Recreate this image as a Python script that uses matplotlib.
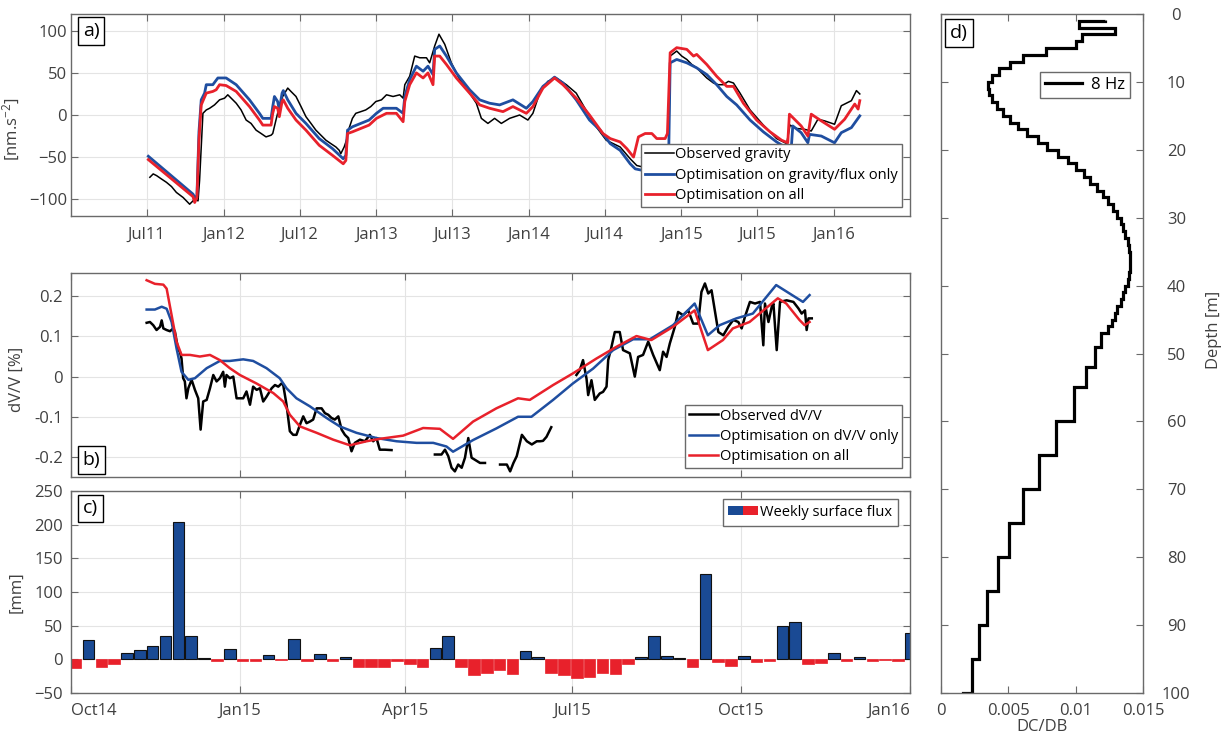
import matplotlib
matplotlib.use("Agg")
import matplotlib.pyplot as plt
import matplotlib.dates as mdates
import numpy as np
from datetime import datetime
from matplotlib.lines import Line2D
from matplotlib.patches import Rectangle
from matplotlib.legend_handler import HandlerTuple

plt.rcParams["font.family"] = ["Open Sans", "DejaVu Sans"]
plt.rcParams["mathtext.default"] = "regular"

BLUE = "#1f4ea0"
RED = "#e8212b"
TXT = "#404040"
SPINE = "#6a6a6a"
GRID = "#e4e4e4"

# ---- panel a: gravity (decimal years, nm/s^2)
grav_obs_t = [2011.517, 2011.539, 2011.561, 2011.593, 2011.626, 2011.659, 2011.691, 2011.735,
              2011.778, 2011.811, 2011.833, 2011.843, 2011.865, 2011.887, 2011.909, 2011.941,
              2011.974, 2012.007, 2012.028, 2012.061, 2012.083, 2012.115, 2012.148, 2012.180,
              2012.213, 2012.246, 2012.278, 2012.311, 2012.322, 2012.343, 2012.365, 2012.387,
              2012.420, 2012.441, 2012.474, 2012.507, 2012.539, 2012.572, 2012.604, 2012.637,
              2012.670, 2012.702, 2012.735, 2012.757, 2012.767, 2012.789, 2012.804, 2012.817,
              2012.843, 2012.865, 2012.898, 2012.930, 2012.963, 2012.996, 2013.033, 2013.066,
              2013.109, 2013.153, 2013.175, 2013.186, 2013.218, 2013.251, 2013.284, 2013.328,
              2013.349, 2013.382, 2013.410, 2013.448, 2013.491, 2013.546, 2013.611, 2013.655,
              2013.688, 2013.731, 2013.775, 2013.819, 2013.873, 2013.939, 2013.993, 2014.026,
              2014.070, 2014.124, 2014.179, 2014.245, 2014.310, 2014.386, 2014.441, 2014.507,
              2014.598, 2014.664, 2014.707, 2014.795, 2014.904, 2014.917, 2014.926, 2014.969,
              2015.002, 2015.035, 2015.068, 2015.100, 2015.133, 2015.166, 2015.210, 2015.242,
              2015.275, 2015.308, 2015.341, 2015.384, 2015.450, 2015.537, 2015.624, 2015.690,
              2015.712, 2015.755, 2015.807, 2015.851, 2015.895, 2015.939, 2016.004, 2016.048,
              2016.114, 2016.147, 2016.169]
grav_obs = [-74, -70, -72, -76, -80, -85, -92, -98,
            -106, -100, -102, -78, 2, 6, 8, 12,
            18, 20, 24, 18, 14, 6, -6, -10,
            -18, -22, -26, -24, -22, -6, 10, 22,
            32, 28, 22, 10, -2, -10, -18, -24,
            -30, -34, -38, -42, -46, -38, -30, -18,
            -4, 2, 4, 6, 10, 16, 18, 24,
            22, 24, 20, 36, 46, 70, 68, 68,
            62, 82, 96, 84, 62, 42, 26, 14,
            -4, -10, -4, -10, -4, 0, -6, 2,
            26, 40, 44, 36, 26, 2, -14, -30,
            -38, -52, -60, -64, -62, -40, 70, 76,
            70, 66, 60, 56, 50, 44, 38, 36,
            36, 40, 38, 26, 6, -12, -28, -34,
            -12, -16, -17, -19, -5, -7, -11, 11,
            17, 29, 25]

grav_flux_t = [2011.507, 2011.800, 2011.817, 2011.826, 2011.839, 2011.854, 2011.876, 2011.887,
               2011.930, 2011.963, 2012.017, 2012.083, 2012.170, 2012.235, 2012.257, 2012.311,
               2012.322, 2012.333, 2012.354, 2012.365, 2012.383, 2012.391, 2012.420, 2012.474,
               2012.539, 2012.626, 2012.713, 2012.783, 2012.800, 2012.811, 2012.843, 2012.952,
               2013.000, 2013.044, 2013.131, 2013.175, 2013.186, 2013.218, 2013.262, 2013.306,
               2013.338, 2013.371, 2013.382, 2013.415, 2013.459, 2013.524, 2013.611, 2013.677,
               2013.742, 2013.808, 2013.895, 2013.983, 2014.026, 2014.092, 2014.168, 2014.223,
               2014.310, 2014.397, 2014.467, 2014.500, 2014.533, 2014.598, 2014.664, 2014.697,
               2014.751, 2014.838, 2014.904, 2014.917, 2014.926, 2014.969, 2015.035, 2015.100,
               2015.166, 2015.231, 2015.297, 2015.362, 2015.450, 2015.537, 2015.624, 2015.660,
               2015.697, 2015.719, 2015.730, 2015.785, 2015.829, 2015.840, 2015.917, 2016.004,
               2016.048, 2016.114, 2016.169]
grav_flux = [-49, -94, -100, -95, -20, 18, 26, 36,
             36, 44, 44, 36, 18, 2, -4, -4,
             10, 22, 16, 6, 26, 29, 18, 2,
             -10, -28, -40, -52, -48, -18, -14, -6,
             2, 8, 8, 2, 22, 42, 58, 52,
             58, 48, 78, 82, 70, 50, 30, 18,
             14, 12, 18, 8, 16, 34, 45, 38,
             18, -6, -18, -26, -34, -42, -58, -64,
             -66, -68, -66, -40, 62, 66, 62, 56,
             48, 36, 22, 12, -6, -20, -32, -36,
             -40, -42, -13, -21, -33, -23, -25, -33,
             -21, -15, -1]

grav_all_t = [2011.507, 2011.800, 2011.811, 2011.826, 2011.839, 2011.854, 2011.887, 2011.930,
              2011.952, 2011.974, 2012.017, 2012.083, 2012.170, 2012.235, 2012.257, 2012.311,
              2012.322, 2012.333, 2012.354, 2012.365, 2012.383, 2012.391, 2012.420, 2012.474,
              2012.539, 2012.626, 2012.713, 2012.783, 2012.800, 2012.811, 2012.843, 2012.952,
              2013.000, 2013.066, 2013.131, 2013.175, 2013.186, 2013.218, 2013.262, 2013.306,
              2013.338, 2013.371, 2013.382, 2013.415, 2013.459, 2013.524, 2013.611, 2013.677,
              2013.742, 2013.830, 2013.895, 2013.983, 2014.026, 2014.092, 2014.168, 2014.223,
              2014.310, 2014.397, 2014.485, 2014.533, 2014.598, 2014.642, 2014.686, 2014.718,
              2014.762, 2014.806, 2014.838, 2014.893, 2014.908, 2014.926, 2014.969, 2015.035,
              2015.079, 2015.100, 2015.166, 2015.231, 2015.297, 2015.341, 2015.406, 2015.493,
              2015.581, 2015.657, 2015.697, 2015.708, 2015.785, 2015.829, 2015.851, 2015.917,
              2016.004, 2016.070, 2016.136, 2016.158, 2016.169]
grav_all = [-53, -97, -104, -98, -30, 12, 26, 28,
            30, 36, 35, 28, 10, -6, -12, -12,
            2, 10, 8, -2, 16, 18, 8, -6,
            -18, -36, -48, -58, -54, -22, -20, -12,
            -4, 2, 2, -8, 16, 36, 50, 44,
            50, 36, 70, 70, 60, 44, 26, 12,
            8, 4, 10, 2, 10, 32, 44, 36,
            20, 0, -22, -28, -32, -40, -50, -26,
            -22, -22, -28, -28, -22, 74, 80, 78,
            70, 72, 60, 46, 34, 34, 14, -6,
            -20, -30, -33, 1, -13, -25, 1, -7,
            -17, -5, 13, 7, 17]

grav_ticks = ["2011-07-01", "2012-01-01", "2012-07-01", "2013-01-01", "2013-07-01",
              "2014-01-01", "2014-07-01", "2015-01-01", "2015-07-01", "2016-01-01"]

# ---- panel b: dV/V (days since 2014-10-01, %)
dvv_obs_d = [41.2, 43, 44.8, 46.6, 48.5, 49.4, 50.3, 52.1, 53.9, 55.7, 56.6, 58.4, 59.3, 60.2,
             61.1, 62, 62.9, 63.9, 65.7, 67.5, 69.3, 70.6, 72, 73.9, 75.7, 77.5, 79.3, 81.1,
             82.9, 83.8, 84.7, 86.5, 88.4, 90.2, 93.8, 95.6, 97.5, 99.2, 101.1, 102.9, 104.7,
             106.5, 109.3, 111.1, 112.9, 114.7, 115.6, 117.4, 119.2, 121, 122.8, 124.7, 126.5,
             128.3, 130.1, 131.9, 133.8, 136.5, 138.3, 140.1, 141.9, 143.7, 145.6, 147.4, 149.2,
             151, 152.8, 154.6, 157.4, 160.1, 162.8, 164.6, 166.4, 168.2, 171, 174.6,
             186,
             198.2, 201.8, 203.7, 205.5, 207.3, 209.1, 210.9, 212.8, 214.6, 216.4, 218.2, 220,
             222.8, 225.5,
             229,
             233.7, 237.4, 239.2, 241, 242.8, 245.6, 248.3, 251, 253.7, 255.5, 257.1, 259, 261.6,
             268,
             275.3, 277.1, 278.9, 280.8, 281.7, 283.5, 285.3, 288, 289.8, 291.7, 292.6, 294.4,
             296.2, 298.9, 300.7, 304.4, 307.1, 308.9, 311.6, 314.4, 317.1, 320.7, 322.5, 324.4,
             326.2, 328.9, 330.7, 333.4, 336.2, 338.9, 341.6, 343.4, 345.3, 347.1, 348.9, 350.7,
             352.6, 355.3, 358, 360.7, 363.5, 365.3, 367.1, 369.8, 372.6, 375.3, 377.1, 378,
             379.9, 381.7, 382.6, 384.4, 386.2, 389.8, 393.5, 396.2, 398, 399.8, 400.7, 401.7,
             403.5]
dvv_obs = [0.134, 0.136, 0.128, 0.116, 0.124, 0.140, 0.120, 0.116, 0.113, 0.120, 0.112, 0.066,
           0.062, 0.045, -0.004, -0.012, -0.054, -0.029, -0.008, -0.033, -0.054, -0.132, -0.062,
           -0.058, -0.029, 0.004, -0.012, -0.004, 0.012, -0.025, 0.004, -0.004, 0.0, -0.054,
           -0.054, -0.037, -0.070, -0.025, -0.033, -0.029, -0.062, -0.050, -0.029, -0.021,
           -0.025, -0.017, -0.021, -0.070, -0.136, -0.145, -0.145, -0.120, -0.099, -0.116,
           -0.112, -0.107, -0.079, -0.079, -0.091, -0.095, -0.103, -0.107, -0.099, -0.132,
           -0.145, -0.153, -0.186, -0.165, -0.157, -0.161, -0.145, -0.161, -0.153, -0.182,
           -0.182, -0.183,
           np.nan,
           -0.194, -0.194, -0.182, -0.198, -0.227, -0.236, -0.219, -0.227, -0.202, -0.153,
           -0.202, -0.207, -0.215, -0.215,
           np.nan,
           -0.219, -0.219, -0.236, -0.215, -0.198, -0.145, -0.161, -0.169, -0.161, -0.161,
           -0.160, -0.150, -0.126,
           np.nan,
           0.004, 0.016, 0.041, -0.005, -0.046, -0.009, -0.058, -0.042, -0.038, -0.025, 0.041,
           0.074, 0.111, 0.111, 0.066, 0.058, 0.0, 0.049, 0.054, 0.087, 0.054, 0.016, 0.062,
           0.049, 0.083, 0.124, 0.161, 0.153, 0.165, 0.132, 0.132, 0.211, 0.232, 0.207, 0.215,
           0.165, 0.111, 0.103, 0.124, 0.141, 0.136, 0.120, 0.149, 0.186, 0.182, 0.186, 0.078,
           0.182, 0.136, 0.174, 0.182, 0.066, 0.186, 0.190, 0.186, 0.170, 0.157, 0.165, 0.116,
           0.145, 0.145]

dvv_flux_d = [41.2, 45.7, 49.4, 52.1, 54.8, 57.5, 60.2, 63.9, 67.5, 73.9, 81.1, 86.5, 93.8,
              99.2, 106.5, 113.7, 117.4, 122.8, 130.1, 139.2, 146.4, 155.5, 166.4, 177.3, 188.2,
              197.3, 204.5, 208.1, 219, 231.7, 243.5, 250.8, 262.6, 273.4, 284.4, 295.3, 306.2,
              315.3, 327.9, 339.7, 346.9, 353.3, 362.4, 371.4, 384.1, 391.4, 398.7, 402.3]
dvv_flux = [0.167, 0.167, 0.174, 0.169, 0.136, 0.070, 0.012, -0.008, -0.004, 0.021, 0.039,
            0.039, 0.043, 0.039, 0.021, -0.004, -0.029, -0.054, -0.074, -0.103, -0.124, -0.140,
            -0.153, -0.161, -0.165, -0.165, -0.174, -0.187, -0.158, -0.129, -0.100, -0.100,
            -0.058, -0.017, 0.020, 0.066, 0.093, 0.093, 0.128, 0.182, 0.103, 0.128, 0.145,
            0.157, 0.228, 0.207, 0.186, 0.203]

dvv_all_d = [41.2, 45.7, 50.3, 52.1, 54.8, 57.5, 60.2, 64.8, 70.2, 75.7, 81.1, 86.5, 92, 101,
             110.2, 115.6, 119.2, 124.7, 133.8, 142.8, 151.9, 161, 168.2, 180.9, 191.8, 200.9,
             208.1, 219, 231.7, 243.5, 249.9, 262.6, 273.4, 286.2, 297, 308, 316.1, 327.9,
             339.7, 346.9, 355.1, 360.5, 369.6, 385, 389.6, 396.8, 399.6, 402.3]
dvv_all = [0.240, 0.231, 0.229, 0.219, 0.153, 0.087, 0.054, 0.054, 0.050, 0.054, 0.041, 0.021,
           0.004, -0.017, -0.041, -0.062, -0.095, -0.124, -0.140, -0.157, -0.171, -0.161,
           -0.155, -0.147, -0.128, -0.130, -0.155, -0.112, -0.079, -0.054, -0.058, -0.021,
           0.008, 0.045, 0.074, 0.101, 0.091, 0.124, 0.165, 0.066, 0.091, 0.120, 0.136, 0.195,
           0.182, 0.141, 0.128, 0.136]

# ---- panel c: weekly surface flux (mm), first week centred 2.5 days after 2014-10-01
flux_mm = [-13, 28, -12, -7, 10, 14, 20, 34, 204, 34, 2, -3, 15, -2, -2, 7, -1, 30, -2, 8,
           -2, 4, -12, -12, -11, -3, -7, -12, 17, 35, -12, -24, -20, -16, -22, 13, 3, -21,
           -23, -27, -26, -21, -22, -7, 4, 35, 5, 2, -12, 127, -4, -10, 5, -4, -3, 50, 55,
           -7, -6, 9, -3, 3, -3, -1, -3, 39]
flux_ticks = ["2014-10-01", "2015-01-01", "2015-04-01", "2015-07-01", "2015-10-01", "2016-01-01"]

# ---- panel d: DC/DB sensitivity kernel (layer edges in m, value per layer)
kern_edges = [0.9, 1, 2, 3, 4, 5, 6, 7, 8, 9, 10, 11, 12, 13, 14, 15, 16, 17, 18, 19, 20, 21,
              22, 23, 24, 25, 26, 27, 28, 29, 30, 31, 32, 33, 34, 35, 36, 37, 38, 39, 40, 41,
              42, 43, 44, 45, 46, 47, 49, 52, 55, 60, 65, 70, 75, 80, 85, 90, 95, 100, 101]
kern_val = [0.0122, 0.01027, 0.0129, 0.0105, 0.0100, 0.0078, 0.0061, 0.0051, 0.0043, 0.0038,
            0.0035, 0.00355, 0.0038, 0.00415, 0.0046, 0.0051, 0.0057, 0.0064, 0.0072, 0.0079,
            0.0087, 0.0094, 0.0100, 0.0106, 0.0111, 0.0116, 0.0120, 0.0124, 0.0128, 0.0131,
            0.01335, 0.01355, 0.0137, 0.01385, 0.01395, 0.0140, 0.01405, 0.0140, 0.01395,
            0.01385, 0.0137, 0.01355, 0.01335, 0.0131, 0.0129, 0.0127, 0.0124, 0.0119, 0.0114,
            0.0108, 0.0099, 0.00855, 0.0073, 0.0061, 0.00505, 0.0042, 0.00345, 0.0028, 0.0023,
            0.0016]


def dec_year(t):
    y = int(t)
    start = datetime(y, 1, 1)
    return mdates.date2num(start + (datetime(y + 1, 1, 1) - start) * (t - y))


def style(ax, ypad=3):
    for s in ax.spines.values():
        s.set_color(SPINE)
        s.set_linewidth(1.0)
    ax.tick_params(direction="in", top=True, right=True, length=5, width=0.8,
                   colors=SPINE, labelcolor=TXT, labelsize=12)
    ax.tick_params(axis="y", pad=ypad)
    ax.grid(True, color=GRID, lw=0.8)
    ax.set_axisbelow(True)


def panel_label(ax, s, x, y, va):
    ax.text(x, y, s, transform=ax.transAxes, fontsize=14, color="k", va=va, ha="left",
            bbox=dict(boxstyle="square,pad=0.25", fc="white", ec="k", lw=1.0), zorder=10)


def boxed_legend(ax, *args, **kw):
    leg = ax.legend(*args, fancybox=False, framealpha=1, edgecolor=SPINE, borderaxespad=0, **kw)
    leg.get_frame().set_linewidth(1.0)
    return leg


W, H = 1221, 742
fig = plt.figure(figsize=(W / 100, H / 100), dpi=100)


def px_axes(x0, y0, x1, y1):
    return fig.add_axes([x0 / W, 1 - y1 / H, (x1 - x0) / W, (y1 - y0) / H])


base = mdates.date2num(datetime(2014, 10, 1))

# ---------- a)
axa = px_axes(71, 14, 910, 216)
style(axa, ypad=3)
axa.plot([dec_year(t) for t in grav_obs_t], grav_obs, color="k", lw=1.1,
         label="Observed gravity")
axa.plot([dec_year(t) for t in grav_flux_t], grav_flux, color=BLUE, lw=2.0,
         label="Optimisation on gravity/flux only")
axa.plot([dec_year(t) for t in grav_all_t], grav_all, color=RED, lw=2.0,
         label="Optimisation on all")
axa.set_xlim(mdates.date2num(datetime(2011, 1, 1)), mdates.date2num(datetime(2016, 7, 1)))
axa.set_ylim(-120, 120)
axa.set_yticks([-100, -50, 0, 50, 100])
axa.set_xticks([mdates.datestr2num(d) for d in grav_ticks])
axa.xaxis.set_major_formatter(mdates.DateFormatter("%b%y"))
axa.tick_params(axis="x", pad=8)
axa.set_ylabel(r"[nm.s$^{-2}$]", fontsize=12, color=TXT)
axa.yaxis.set_label_coords(-0.058, 0.43)
boxed_legend(axa, loc="lower right", bbox_to_anchor=(0.99, 0.045), fontsize=10.5,
             handlelength=2.0, handletextpad=0.1, borderpad=0.25, labelspacing=0.37)
panel_label(axa, "a)", 0.014, 0.962, "top")

# ---------- b)
axb = px_axes(71, 273, 910, 477)
style(axb, ypad=6)
axb.plot(base + np.array(dvv_obs_d), dvv_obs, color="k", lw=1.8, label="Observed dV/V")
axb.plot(base + np.array(dvv_flux_d), dvv_flux, color=BLUE, lw=1.8,
         label="Optimisation on dV/V only")
axb.plot(base + np.array(dvv_all_d), dvv_all, color=RED, lw=1.8, label="Optimisation on all")
axb.set_xlim(base, mdates.date2num(datetime(2016, 1, 1)))
axb.set_ylim(-0.25, 0.258)
axb.set_yticks([-0.2, -0.1, 0, 0.1, 0.2])
axb.set_yticklabels(["-0.2", "-0.1", "0", "0.1", "0.2"])
axb.set_xticks([mdates.datestr2num(d) for d in flux_ticks])
axb.tick_params(axis="x", labelbottom=False)
axb.set_ylabel("dV/V [%]", fontsize=12, color=TXT)
axb.yaxis.set_label_coords(-0.055, 0.48)
boxed_legend(axb, loc="lower right", bbox_to_anchor=(0.99, 0.044), fontsize=10.5,
             handlelength=2.0, handletextpad=0.1, borderpad=0.25, labelspacing=0.37)
panel_label(axb, "b)", 0.014, 0.038, "bottom")

# ---------- c)
axc = px_axes(71, 491, 910, 693)
style(axc, ypad=6)
flux = np.array(flux_mm, dtype=float)
weeks = base + 2.5 + 7 * np.arange(len(flux))
pos = flux > 0
axc.bar(weeks[pos], flux[pos], width=6.3, color="#1a4a94", edgecolor="#111111", lw=0.8)
axc.bar(weeks[~pos], flux[~pos], width=6.3, color=RED, edgecolor=RED, lw=0.5)
axc.set_xlim(base, mdates.date2num(datetime(2016, 1, 1)))
axc.set_ylim(-50, 250)
axc.set_yticks(np.arange(-50, 251, 50))
axc.set_xticks([mdates.datestr2num(d) for d in flux_ticks])
axc.xaxis.set_major_formatter(mdates.DateFormatter("%b%y"))
axc.tick_params(axis="x", pad=7)
labs = axc.get_xticklabels()
labs[0].set_ha("left")
labs[-1].set_ha("right")
axc.set_ylabel("[mm]", fontsize=12, color=TXT)
axc.yaxis.set_label_coords(-0.055, 0.5)
h = (Rectangle((0, 0), 1, 1, fc="#1a4a94", ec="none"), Rectangle((0, 0), 1, 1, fc=RED, ec="none"))
boxed_legend(axc, [h], ["Weekly surface flux"],
             handler_map={tuple: HandlerTuple(ndivide=None, pad=0)},
             loc="upper right", bbox_to_anchor=(0.986, 0.96), fontsize=10.5,
             handlelength=2.0, handleheight=0.6, handletextpad=0.2, borderpad=0.4)
panel_label(axc, "c)", 0.014, 0.958, "top")

# ---------- d)
axd = px_axes(941, 14, 1143, 693)
for s in axd.spines.values():
    s.set_color(SPINE)
    s.set_linewidth(1.0)
axd.stairs(kern_val, kern_edges, orientation="horizontal", baseline=None, color="k", lw=2.3)
axd.set_xlim(0, 0.015)
axd.set_ylim(100, 0)
axd.set_xticks([0, 0.005, 0.01, 0.015])
axd.set_xticklabels(["0", "0.005", "0.01", "0.015"])
axd.set_yticks(np.arange(0, 101, 10))
axd.tick_params(direction="in", top=True, right=True, left=True, length=5, width=0.8,
                colors=SPINE, labelcolor=TXT, labelsize=12, labelleft=False, labelright=True)
axd.tick_params(axis="y", pad=24)
for t in axd.get_yticklabels():
    t.set_ha("center")
axd.tick_params(axis="x", pad=7)
axd.yaxis.set_label_position("right")
axd.set_ylabel("Depth [m]", fontsize=12, color=TXT, rotation=90)
axd.yaxis.set_label_coords(1.31, 0.535)
axd.set_xlabel("DC/DB", fontsize=12, color=TXT, labelpad=0)
boxed_legend(axd, [Line2D([], [], color="k", lw=2.3)], ["8 Hz"], loc="upper right",
             bbox_to_anchor=(0.936, 0.915), fontsize=12, handlelength=2.2,
             handletextpad=0.55, borderpad=0.3)
panel_label(axd, "d)", 0.045, 0.985, "top")

fig.savefig("out.png", dpi=100)
